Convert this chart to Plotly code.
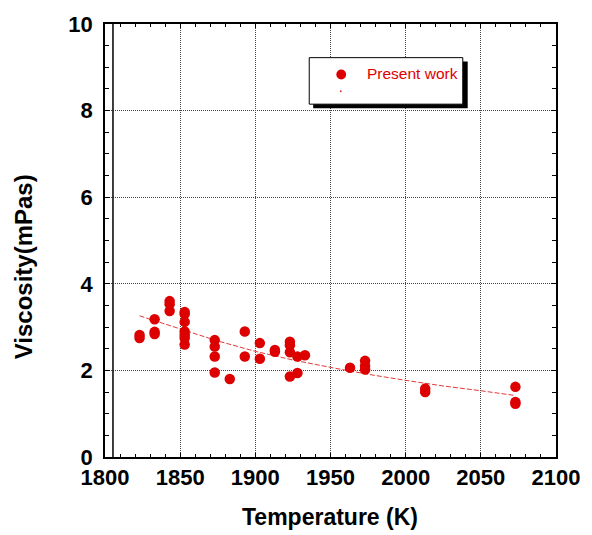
import plotly.graph_objects as go

# ---- data ----
temperature = [1823, 1823,
               1833, 1833, 1833,
               1843, 1843, 1843,
               1853, 1853, 1853, 1853, 1853, 1853, 1853,
               1873, 1873, 1873, 1873,
               1883,
               1893, 1893,
               1903, 1903,
               1913, 1913,
               1923, 1923, 1923, 1923,
               1928, 1928,
               1933,
               1963,
               1973, 1973, 1973,
               2013, 2013,
               2073, 2073, 2073]
viscosity = [2.82, 2.75,
             3.18, 2.89, 2.84,
             3.60, 3.53, 3.37,
             3.35, 3.30, 3.12, 2.90, 2.82, 2.75, 2.60,
             2.70, 2.55, 2.32, 1.95,
             1.80,
             2.90, 2.32,
             2.63, 2.27,
             2.47, 2.43,
             2.66, 2.58, 2.42, 1.86,
             2.32, 1.94,
             2.35,
             2.06,
             2.22, 2.10, 2.02,
             1.58, 1.50,
             1.62, 1.27, 1.23]

fit_temperature = [1823, 1850, 1875, 1900, 1925, 1950, 1975, 2000, 2025, 2050, 2073]
fit_viscosity = [3.26, 2.95, 2.68, 2.44, 2.24, 2.07, 1.91, 1.77, 1.64, 1.53, 1.42]

x_ticks = [1800, 1850, 1900, 1950, 2000, 2050, 2100]
y_ticks = [0, 2, 4, 6, 8, 10]

legend_label = "Present work"

# ---- layout geometry (pixels) ----
W, H = 592, 535
L, R, T, B = 104.5, 29.3, 20, 77.5
PW, PH = W - L - R, H - T - B


def px(x):
    return (x - L) / PW


def py(y):
    return (H - B - y) / PH


tick_font = dict(family="Liberation Sans", size=22, color="black", weight="bold")

fig = go.Figure()
fig.add_trace(go.Scatter(
    x=fit_temperature, y=fit_viscosity, mode="lines",
    line=dict(color="#e23a3a", width=1, dash="5px,2px"),
    showlegend=False, hoverinfo="skip"))
fig.add_trace(go.Scatter(
    x=temperature, y=viscosity, mode="markers",
    marker=dict(color="#dd0000", size=10.5, line=dict(width=0)),
    name=legend_label, showlegend=False))

common = dict(
    showline=True, linecolor="black", linewidth=1.5, mirror="ticks",
    ticks="inside", tickcolor="black", tickwidth=1,
    showgrid=True, gridcolor="#444444", griddash="1px,1px", gridwidth=1,
    zeroline=False, tickfont=tick_font, layer="below traces",
)

fig.update_xaxes(range=[1800, 2100], tickvals=x_ticks, ticklen=4,
                 minor=dict(dtick=10, tick0=1800, ticks="inside", ticklen=3,
                            tickcolor="black", showgrid=False),
                 ticklabelstandoff=0, **common)
fig.update_yaxes(range=[0, 10], tickvals=y_ticks, ticklen=5,
                 minor=dict(dtick=0.5, tick0=0, ticks="inside", ticklen=4,
                            tickcolor="black", showgrid=False),
                 ticklabelstandoff=6, **common)

shapes = [
    # inner vertical line near the left frame
    dict(type="line", xref="x", yref="y", x0=1805.3, x1=1805.3, y0=0, y1=10,
         line=dict(color="black", width=1.5)),
    # legend shadow
    dict(type="rect", xref="paper", yref="paper",
         x0=px(316), x1=px(473), y0=py(105), y1=py(58),
         fillcolor="black", line=dict(width=0)),
    # legend box
    dict(type="rect", xref="paper", yref="paper",
         x0=px(312), x1=px(468), y0=py(101), y1=py(54),
         fillcolor="white", line=dict(color="black", width=1)),
    # legend marker
    dict(type="circle", xref="paper", yref="paper",
         x0=px(339.5), x1=px(349.5), y0=py(76), y1=py(66),
         fillcolor="#dd0000", line=dict(width=0)),
    # legend second (line) entry tiny dot
    dict(type="circle", xref="paper", yref="paper",
         x0=px(343), x1=px(345), y0=py(89), y1=py(87),
         fillcolor="#e23a3a", line=dict(width=0)),
]

annotations = [
    dict(text=legend_label, xref="paper", yref="paper", x=px(369), y=py(70.5),
         xanchor="left", yanchor="middle", showarrow=False,
         font=dict(family="Liberation Sans", size=15.5, color="#e00000")),
    dict(text="Temperature (K)", xref="paper", yref="paper", x=px(333.5), y=py(518),
         xanchor="center", yanchor="middle", showarrow=False,
         font=dict(family="Liberation Sans", size=23, color="black", weight="bold")),
    dict(text="Viscosity(mPas)", xref="paper", yref="paper", x=px(22), y=py(265),
         xanchor="center", yanchor="middle", showarrow=False, textangle=-90,
         font=dict(family="Liberation Sans", size=24, color="black", weight="bold")),
]

fig.update_layout(
    width=W, height=H,
    margin=dict(l=L, r=R, t=T, b=B),
    paper_bgcolor="white", plot_bgcolor="white",
    shapes=shapes, annotations=annotations,
    showlegend=False,
)

fig.write_html("out.html")
